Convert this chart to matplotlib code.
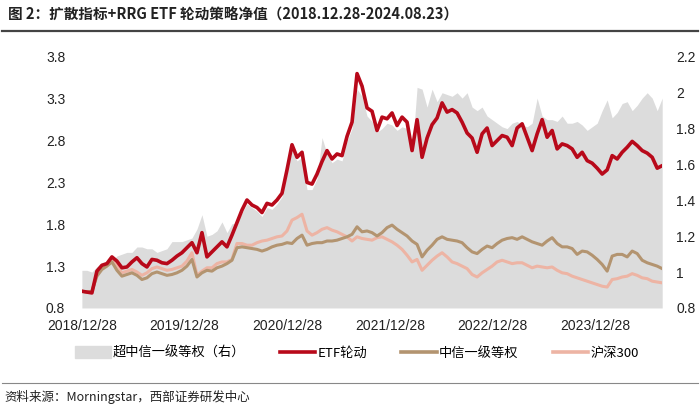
import numpy as np
import pandas as pd
import matplotlib
matplotlib.use("Agg")
import matplotlib.pyplot as plt
import matplotlib.dates as mdates
from matplotlib.patches import Patch
from matplotlib.lines import Line2D

plt.rcParams['font.family'] = ['Liberation Sans', 'Noto Sans CJK SC', 'DejaVu Sans']

# sampling dates (roughly every 2.5 weeks)
dates = pd.date_range('2018-12-28', '2024-08-23', periods=117)

# ETF rotation strategy NAV (left axis)
etf = [1.00, 0.99, 0.98, 1.24, 1.31, 1.33, 1.41, 1.36, 1.28, 1.29,
       1.35, 1.40, 1.33, 1.29, 1.38, 1.37, 1.34, 1.33, 1.37, 1.42,
       1.46, 1.52, 1.58, 1.46, 1.70, 1.41, 1.47, 1.53, 1.59, 1.53,
       1.67, 1.82, 1.97, 2.09, 2.03, 2.00, 1.94, 2.05, 2.03, 2.09,
       2.17, 2.45, 2.75, 2.60, 2.66, 2.30, 2.28, 2.40, 2.55, 2.68,
       2.58, 2.64, 2.62, 2.85, 3.02, 3.60, 3.45, 3.19, 3.15, 2.92,
       3.08, 3.06, 3.13, 2.98, 3.08, 3.02, 2.68, 3.05, 2.60, 2.83,
       2.99, 3.07, 3.25, 3.14, 3.17, 3.13, 3.02, 2.89, 2.83, 2.66,
       2.88, 2.95, 2.74, 2.80, 2.86, 2.84, 2.74, 2.95, 3.00, 2.84,
       2.68, 2.88, 3.05, 2.84, 2.92, 2.70, 2.76, 2.74, 2.70, 2.60,
       2.66, 2.56, 2.53, 2.47, 2.40, 2.45, 2.62, 2.58, 2.66, 2.72,
       2.79, 2.74, 2.68, 2.65, 2.60, 2.47, 2.50]

# CITIC level-1 industries, equal weight (left axis)
citic_eq = [1.00, 0.99, 1.00, 1.18, 1.26, 1.30, 1.35, 1.25, 1.18, 1.20,
            1.22, 1.19, 1.14, 1.16, 1.21, 1.23, 1.21, 1.19, 1.20, 1.22,
            1.25, 1.30, 1.38, 1.17, 1.22, 1.25, 1.24, 1.28, 1.30, 1.33,
            1.37, 1.52, 1.53, 1.52, 1.51, 1.50, 1.48, 1.50, 1.53, 1.55,
            1.56, 1.58, 1.57, 1.63, 1.67, 1.55, 1.57, 1.58, 1.58, 1.60,
            1.60, 1.61, 1.63, 1.65, 1.68, 1.77, 1.71, 1.72, 1.70, 1.66,
            1.70, 1.76, 1.79, 1.74, 1.70, 1.66, 1.60, 1.56, 1.41, 1.49,
            1.55, 1.62, 1.65, 1.62, 1.61, 1.60, 1.58, 1.52, 1.47, 1.45,
            1.50, 1.54, 1.52, 1.57, 1.61, 1.63, 1.64, 1.62, 1.65, 1.62,
            1.59, 1.57, 1.55, 1.60, 1.64, 1.57, 1.53, 1.53, 1.51, 1.44,
            1.48, 1.47, 1.43, 1.38, 1.32, 1.24, 1.42, 1.44, 1.44, 1.41,
            1.48, 1.45, 1.37, 1.34, 1.32, 1.30, 1.27]

# CSI 300 (left axis)
hs300 = [1.00, 0.99, 1.00, 1.20, 1.30, 1.32, 1.37, 1.30, 1.22, 1.24,
         1.26, 1.23, 1.19, 1.22, 1.27, 1.29, 1.27, 1.25, 1.26, 1.28,
         1.30, 1.36, 1.46, 1.19, 1.24, 1.28, 1.28, 1.33, 1.35, 1.35,
         1.38, 1.57, 1.57, 1.55, 1.55, 1.58, 1.60, 1.61, 1.63, 1.65,
         1.66, 1.72, 1.85, 1.88, 1.92, 1.72, 1.67, 1.70, 1.74, 1.76,
         1.73, 1.71, 1.68, 1.65, 1.60, 1.65, 1.63, 1.62, 1.61, 1.64,
         1.65, 1.62, 1.59, 1.55, 1.50, 1.43, 1.35, 1.38, 1.25, 1.31,
         1.37, 1.42, 1.46, 1.41, 1.35, 1.33, 1.30, 1.27, 1.20, 1.17,
         1.22, 1.26, 1.30, 1.35, 1.37, 1.35, 1.33, 1.34, 1.34, 1.31,
         1.28, 1.30, 1.29, 1.28, 1.29, 1.25, 1.22, 1.21, 1.18, 1.16,
         1.14, 1.12, 1.10, 1.08, 1.06, 1.05, 1.14, 1.15, 1.17, 1.18,
         1.21, 1.19, 1.16, 1.15, 1.12, 1.11, 1.10]

# excess over CITIC equal weight (right axis)
excess = [1.01, 1.01, 1.00, 1.03, 1.04, 1.05, 1.06, 1.09, 1.10, 1.11,
          1.11, 1.14, 1.14, 1.13, 1.13, 1.11, 1.12, 1.13, 1.17, 1.17,
          1.17, 1.18, 1.19, 1.24, 1.32, 1.20, 1.21, 1.23, 1.28, 1.22,
          1.27, 1.27, 1.33, 1.38, 1.36, 1.34, 1.31, 1.36, 1.35, 1.38,
          1.42, 1.55, 1.68, 1.62, 1.64, 1.46, 1.46, 1.52, 1.75, 1.66,
          1.61, 1.63, 1.62, 1.73, 1.80, 2.02, 1.98, 1.87, 1.84, 1.78,
          1.80, 1.83, 1.82, 1.79, 1.81, 1.80, 1.66, 2.03, 2.02, 1.92,
          2.02, 1.95, 2.00, 1.99, 1.98, 2.00, 1.97, 2.00, 1.92, 1.90,
          1.92, 1.87, 1.85, 1.83, 1.81, 1.80, 1.83, 1.84, 1.82, 1.81,
          1.83, 1.97, 1.87, 1.85, 1.85, 1.84, 1.87, 1.83, 1.83, 1.84,
          1.82, 1.79, 1.81, 1.83, 1.90, 1.96, 1.86, 1.89, 1.94, 1.95,
          1.90, 1.93, 1.97, 2.00, 1.97, 1.90, 1.97]

left_ticks = [0.8, 1.3, 1.8, 2.3, 2.8, 3.3, 3.8]
right_ticks = [0.8, 1.0, 1.2, 1.4, 1.6, 1.8, 2.0, 2.2]
x_ticks = ['2018-12-28', '2019-12-28', '2020-12-28', '2021-12-28', '2022-12-28', '2023-12-28']

c_red = '#B8091A'
c_tan = '#B39470'
c_pink = '#EDB4A4'
c_gray = '#DCDCDC'

fig = plt.figure(figsize=(7, 4.09), dpi=100)
ax = fig.add_axes([0.117, 0.247, 0.829, 0.614])
ax2 = ax.twinx()

ax2.fill_between(dates, 0.8, excess, color=c_gray, lw=0)
ax.plot(dates, hs300, color=c_pink, lw=2.2)
ax.plot(dates, citic_eq, color=c_tan, lw=2.2)
ax.plot(dates, etf, color=c_red, lw=2.6)

ax.set_zorder(ax2.get_zorder() + 1)
ax.patch.set_visible(False)

ax.set_ylim(0.8, 3.8)
ax2.set_ylim(0.8, 2.2)
ax.set_xlim(dates[0], dates[-1])
ax.set_yticks(left_ticks)
ax.set_yticklabels([f'{v:.1f}' for v in left_ticks])
ax2.set_yticks(right_ticks)
ax2.set_yticklabels([f'{v:g}' for v in right_ticks])
ax.set_xticks(pd.to_datetime(x_ticks))
ax.xaxis.set_major_formatter(mdates.DateFormatter('%Y/%m/%d'))

for a in (ax, ax2):
    for s in a.spines.values():
        s.set_visible(False)
    a.tick_params(length=0, labelsize=10, colors='#222222')
ax.tick_params(axis='y', pad=12)
ax2.tick_params(axis='y', pad=10)
ax.tick_params(axis='x', pad=8)

handles = [Patch(color=c_gray),
           Line2D([], [], color=c_red, lw=2.6),
           Line2D([], [], color=c_tan, lw=2.6),
           Line2D([], [], color=c_pink, lw=2.6)]
labels = ['超中信一级等权（右）', 'ETF轮动', '中信一级等权', '沪深300']
fig.legend(handles, labels, loc='center', bbox_to_anchor=(0.51, 1 - 353 / 409), ncol=4,
           frameon=False, handlelength=2.7, handletextpad=0.15, handleheight=1.0,
           columnspacing=2.6, prop={'family': ['Noto Sans CJK SC', 'DejaVu Sans'], 'size': 9.5})

fig.text(0.012, 1 - 15 / 409, '图 2：扩散指标+RRG ETF 轮动策略净值（2018.12.28-2024.08.23）',
         fontsize=10.5, fontweight='bold', va='center', ha='left', color='#222222',
         family=['Noto Sans CJK SC', 'DejaVu Sans'])
fig.add_artist(Line2D([0.003, 0.997], [1 - 31 / 409] * 2, color='#444444', lw=1.6))
fig.add_artist(Line2D([0.003, 0.997], [1 - 383 / 409] * 2, color='#888888', lw=0.8))
fig.text(0.006, 1 - 397 / 409, '资料来源：Morningstar，西部证券研发中心', fontsize=9,
         va='center', ha='left', color='#222222', family=['Noto Sans CJK SC', 'DejaVu Sans'])

fig.savefig('out.png', dpi=100)
